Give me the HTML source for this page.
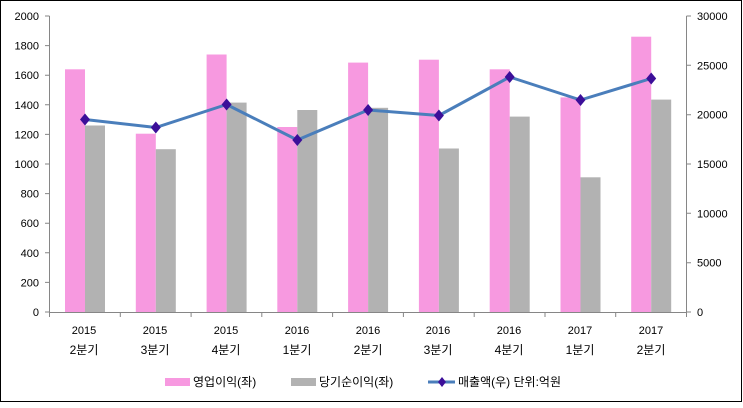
<!DOCTYPE html>
<html><head><meta charset="utf-8"><style>
body{margin:0;background:#fff}
svg text{font-family:"Liberation Sans","Noto Sans CJK KR","NanumGothic",sans-serif;font-size:11px;fill:#000}
svg text.k{font-size:12px}
</style></head><body>
<svg width="743" height="403" viewBox="0 0 743 403" xmlns="http://www.w3.org/2000/svg">
<rect x="0.5" y="0.5" width="741" height="401" fill="#fff" stroke="#000" stroke-width="1"/>
<g fill="#f799e0">
<rect x="65" y="69.3" width="20" height="242.7"/>
<rect x="135.8" y="133.7" width="20" height="178.3"/>
<rect x="206.6" y="54.5" width="20" height="257.5"/>
<rect x="277.3" y="127" width="20" height="185"/>
<rect x="348.1" y="62.6" width="20" height="249.4"/>
<rect x="418.9" y="59.7" width="20" height="252.3"/>
<rect x="489.7" y="69.3" width="20" height="242.7"/>
<rect x="560.5" y="97.4" width="20" height="214.6"/>
<rect x="631.2" y="36.7" width="20" height="275.3"/>
</g>
<g fill="#b2b2b2">
<rect x="85" y="125.5" width="20" height="186.5"/>
<rect x="155.8" y="149.2" width="20" height="162.8"/>
<rect x="226.6" y="102.6" width="20" height="209.4"/>
<rect x="297.3" y="110" width="20" height="202"/>
<rect x="368.1" y="107.8" width="20" height="204.2"/>
<rect x="438.9" y="148.5" width="20" height="163.5"/>
<rect x="509.7" y="116.6" width="20" height="195.4"/>
<rect x="580.5" y="177.3" width="20" height="134.7"/>
<rect x="651.2" y="99.6" width="20" height="212.4"/>
</g>
<g stroke="#868686" stroke-width="1" fill="none">
<path d="M49.5 16V312.5M686.5 16V312.5M49.5 312.5H686.5"/>
<path d="M45 16H49.5M45 45.6H49.5M45 75.2H49.5M45 104.8H49.5M45 134.4H49.5M45 164H49.5M45 193.6H49.5M45 223.2H49.5M45 252.8H49.5M45 282.4H49.5M45 312H49.5"/>
<path d="M686.5 16H691M686.5 65.3H691M686.5 114.7H691M686.5 164H691M686.5 213.3H691M686.5 262.7H691M686.5 312H691"/>
<path d="M49.5 312V317M120.3 312V317M191.1 312V317M261.8 312V317M332.6 312V317M403.4 312V317M474.2 312V317M545 312V317M615.7 312V317M686.5 312V317"/>
</g>
<polyline points="85,119.5 155.8,127.5 226.6,104.5 297.3,140 368.1,110 438.9,115.5 509.7,77 580.5,100 651.2,78.5" fill="none" stroke="#4a7ebb" stroke-width="3" stroke-linejoin="round"/>
<g fill="#3c0f99">
<path d="M85 113.5l5 6-5 6-5-6z"/><path d="M155.8 121.5l5 6-5 6-5-6z"/><path d="M226.6 98.5l5 6-5 6-5-6z"/>
<path d="M297.3 134l5 6-5 6-5-6z"/><path d="M368.1 104l5 6-5 6-5-6z"/><path d="M438.9 109.5l5 6-5 6-5-6z"/>
<path d="M509.7 71l5 6-5 6-5-6z"/><path d="M580.5 94l5 6-5 6-5-6z"/><path d="M651.2 72.5l5 6-5 6-5-6z"/>
</g>
<g text-anchor="end">
<text x="39" y="20">2000</text><text x="39" y="49.6">1800</text><text x="39" y="79.2">1600</text><text x="39" y="108.8">1400</text><text x="39" y="138.4">1200</text><text x="39" y="168">1000</text><text x="39" y="197.6">800</text><text x="39" y="227.2">600</text><text x="39" y="256.8">400</text><text x="39" y="286.4">200</text><text x="39" y="316">0</text>
</g>
<g>
<text x="697" y="20">30000</text><text x="697" y="69.3">25000</text><text x="697" y="118.7">20000</text><text x="697" y="168">15000</text><text x="697" y="217.3">10000</text><text x="697" y="266.7">5000</text><text x="697" y="316">0</text>
</g>
<g text-anchor="middle">
<text x="84" y="334">2015</text><text class="k" x="84" y="354">2분기</text>
<text x="155" y="334">2015</text><text class="k" x="155" y="354">3분기</text>
<text x="226" y="334">2015</text><text class="k" x="226" y="354">4분기</text>
<text x="297" y="334">2016</text><text class="k" x="297" y="354">1분기</text>
<text x="368" y="334">2016</text><text class="k" x="368" y="354">2분기</text>
<text x="438" y="334">2016</text><text class="k" x="438" y="354">3분기</text>
<text x="509" y="334">2016</text><text class="k" x="509" y="354">4분기</text>
<text x="580" y="334">2017</text><text class="k" x="580" y="354">1분기</text>
<text x="651" y="334">2017</text><text class="k" x="651" y="354">2분기</text>
</g>
<rect x="165" y="378" width="25" height="8" fill="#f799e0"/>
<text class="k" x="193" y="386">영업이익(좌)</text>
<rect x="291" y="378" width="25" height="8" fill="#b2b2b2"/>
<text class="k" x="319" y="386">당기순이익(좌)</text>
<line x1="428" y1="382" x2="455" y2="382" stroke="#4a7ebb" stroke-width="3"/>
<path d="M442 377l4 5-4 5-4-5z" fill="#3c0f99"/>
<text class="k" x="458" y="386">매출액(우)  단위:억원</text>
</svg>
</body></html>
